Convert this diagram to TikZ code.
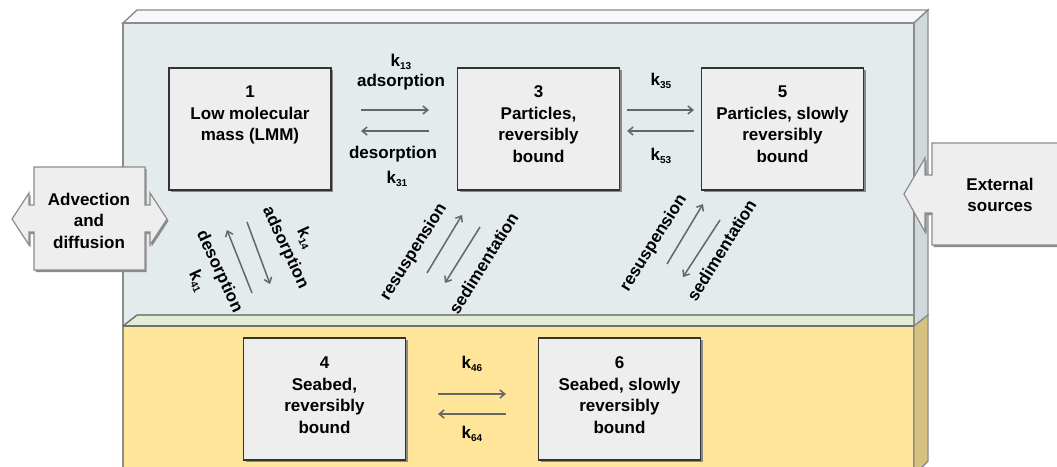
\documentclass[tikz,border=0pt]{standalone}
\usepackage{fontspec}
\setmainfont{Liberation Sans}
\usetikzlibrary{arrows.meta,calc}
\definecolor{waterfront}{HTML}{E3EBED}
\definecolor{watertop}{HTML}{F8F8F8}
\definecolor{waterside}{HTML}{D0DADD}
\definecolor{greenstrip}{HTML}{E1EDD6}
\definecolor{seabed}{HTML}{FFE599}
\definecolor{seabedside}{HTML}{D7C17E}
\definecolor{edgec}{HTML}{8C8C8C}
\definecolor{boxfill}{HTML}{EEEEEE}
\definecolor{boxborder}{HTML}{333333}
\definecolor{shadowc}{HTML}{8A8A8A}
\definecolor{arrowc}{HTML}{666666}
\newcommand{\ksub}[1]{k\raisebox{-3pt}{\fontsize{10}{12}\selectfont #1}}
\begin{document}
\begin{tikzpicture}[x=1pt,y=-1pt,
  font=\fontsize{17}{21.5}\selectfont\bfseries,
  box/.style={draw=boxborder,line width=1.2pt,fill=boxfill,minimum width=162pt,minimum height=122pt,inner sep=0pt},
  shadowbox/.style={fill=shadowc,minimum width=162pt,minimum height=122pt,inner sep=0pt},
  btext/.style={anchor=north,align=center,inner sep=0pt},
  lbl/.style={inner sep=0pt,text height=12pt,text depth=3.5pt},
  flow/.style={draw=arrowc,line width=1.5pt,-{Straight Barb[length=5pt,width=8pt]}},
  edgethreed/.style={draw=edgec,line width=1.4pt},
  callout/.style={fill=boxfill,draw=edgec,line width=1.2pt},
  calloutshadow/.style={fill=shadowc},
]
\useasboundingbox (0,0) rectangle (1057,466);
\clip (0,0) rectangle (1057,466);

% water body (3D box)
\filldraw[fill=watertop,edgethreed] (123,23) -- (137,10) -- (928,10) -- (914,23) -- cycle;
\fill[waterfront] (123,23) rectangle (914,326);
\fill[greenstrip] (123,326) -- (137,315) -- (928,315) -- (914,326) -- cycle;
\draw[edgethreed] (137,315) -- (928,315);
\filldraw[fill=waterside,edgethreed] (914,23) -- (928,10) -- (928,315) -- (914,326) -- cycle;
\draw[edgethreed] (123,326) -- (123,23) -- (914,23) -- (914,326);
% seabed
\filldraw[fill=seabed,edgethreed] (123,480) -- (123,326) -- (914,326) -- (914,480);
\filldraw[fill=seabedside,edgethreed] (914,326) -- (928,315) -- (928,461) -- (914,475) -- cycle;
\draw[edgethreed,draw=edgec!80!black] (123,326) -- (137,315);
\draw[edgethreed,draw=edgec!80!black] (123,326) -- (914,326);

% compartment boxes
\node[shadowbox] (s1) at (252,131) {};
\node[box] (b1) at (250,129) {};
\node[btext] (t1) at ($(b1.north)+(0,17)$) {\rule{0pt}{13pt}1\\Low molecular\\mass (LMM)};

\node[shadowbox] (s3) at (540.5,131) {};
\node[box] (b3) at (538.5,129) {};
\node[btext] (t3) at ($(b3.north)+(0,17)$) {\rule{0pt}{13pt}3\\Particles,\\reversibly\\bound};

\node[shadowbox] (s5) at (784.5,131) {};
\node[box] (b5) at (782.5,129) {};
\node[btext] (t5) at ($(b5.north)+(0,17)$) {\rule{0pt}{13pt}5\\Particles, slowly\\reversibly\\bound};

\node[shadowbox] (s4) at (326.5,401) {};
\node[box] (b4) at (324.5,399) {};
\node[btext] (t4) at ($(b4.north)+(0,18)$) {\rule{0pt}{13pt}4\\Seabed,\\reversibly\\bound};

\node[shadowbox] (s6) at (621.5,401) {};
\node[box] (b6) at (619.5,399) {};
\node[btext] (t6) at ($(b6.north)+(0,18)$) {\rule{0pt}{13pt}6\\Seabed, slowly\\reversibly\\bound};

% Advection and diffusion callout
\fill[calloutshadow,shift={(1.5,2)}] (34,167) -- (145,167) -- (145,205) -- (150,205) -- (150,193) -- (167,219) -- (150,245) -- (150,232) -- (145,232) -- (145,270) -- (34,270) -- (34,232) -- (29,232) -- (29,245) -- (12,219) -- (29,193) -- (29,205) -- (34,205) -- cycle;
\filldraw[callout] (34,167) -- (145,167) -- (145,205) -- (150,205) -- (150,193) -- (167,219) -- (150,245) -- (150,232) -- (145,232) -- (145,270) -- (34,270) -- (34,232) -- (29,232) -- (29,245) -- (12,219) -- (29,193) -- (29,205) -- (34,205) -- cycle;
\node[btext] (adv) at (89,192) {\rule{0pt}{13pt}Advection\\and\\diffusion};

% External sources callout
\fill[calloutshadow,shift={(1.5,2)}] (932,143) -- (1075,143) -- (1075,245) -- (932,245) -- (932,213) -- (925,213) -- (925,232) -- (904,194) -- (925,158) -- (925,175) -- (932,175) -- cycle;
\filldraw[callout] (932,143) -- (1075,143) -- (1075,245) -- (932,245) -- (932,213) -- (925,213) -- (925,232) -- (904,194) -- (925,158) -- (925,175) -- (932,175) -- cycle;
\node[btext] (ext) at (1000,177) {\rule{0pt}{13pt}External\\sources};

% 1 <-> 3
\coordinate (p13a) at (361,110); \coordinate (p13b) at (429,110);
\coordinate (p31a) at (429,131); \coordinate (p31b) at (361,131);
\draw[flow] (p13a) -- (p13b);
\draw[flow] (p31a) -- (p31b);
\node[lbl] (k13) at (401,62) {\ksub{13}};
\node[lbl] (ads13) at (401,82) {adsorption};
\node[lbl] (des31) at (393,154) {desorption};
\node[lbl] (k31) at (397,179) {\ksub{31}};

% 3 <-> 5
\coordinate (p35a) at (627,110); \coordinate (p35b) at (694,110);
\coordinate (p53a) at (694,131); \coordinate (p53b) at (627,131);
\draw[flow] (p35a) -- (p35b);
\draw[flow] (p53a) -- (p53b);
\node[lbl] (k35) at (661,81) {\ksub{35}};
\node[lbl] (k53) at (661,156) {\ksub{53}};

% 4 <-> 6
\coordinate (p46a) at (438,394); \coordinate (p46b) at (506,394);
\coordinate (p64a) at (506,414); \coordinate (p64b) at (438,414);
\draw[flow] (p46a) -- (p46b);
\draw[flow] (p64a) -- (p64b);
\node[lbl] (k46) at (472,364) {\ksub{46}};
\node[lbl] (k64) at (472,434) {\ksub{64}};

% 1 <-> 4
\coordinate (p14a) at (247,222); \coordinate (p14b) at (270,284);
\coordinate (p41a) at (252,293); \coordinate (p41b) at (227,230);
\draw[flow] (p14a) -- (p14b);
\draw[flow] (p41a) -- (p41b);
\node[lbl,rotate=-65] (ads14) at (285,248) {adsorption};
\node[lbl,rotate=-65] (k14) at (305,238) {\ksub{14}};
\node[lbl,rotate=-65] (des41) at (219,272) {desorption};
\node[lbl,rotate=-65] (k41) at (197,281) {\ksub{41}};

% 3 <-> 4
\coordinate (p43a) at (427,273); \coordinate (p43b) at (462,215);
\coordinate (p34a) at (480,227); \coordinate (p34b) at (445,283);
\draw[flow] (p43a) -- (p43b);
\draw[flow] (p34a) -- (p34b);
\node[lbl,rotate=58] (res34) at (414,252) {resuspension};
\node[lbl,rotate=58] (sed34) at (485,264) {sedimentation};

% 5 <-> 6
\coordinate (p65a) at (667,264); \coordinate (p65b) at (703,204);
\coordinate (p56a) at (720,220); \coordinate (p56b) at (683,277);
\draw[flow] (p65a) -- (p65b);
\draw[flow] (p56a) -- (p56b);
\node[lbl,rotate=58] (res56) at (654,243) {resuspension};
\node[lbl,rotate=58] (sed56) at (723,251) {sedimentation};
\end{tikzpicture}
\end{document}
